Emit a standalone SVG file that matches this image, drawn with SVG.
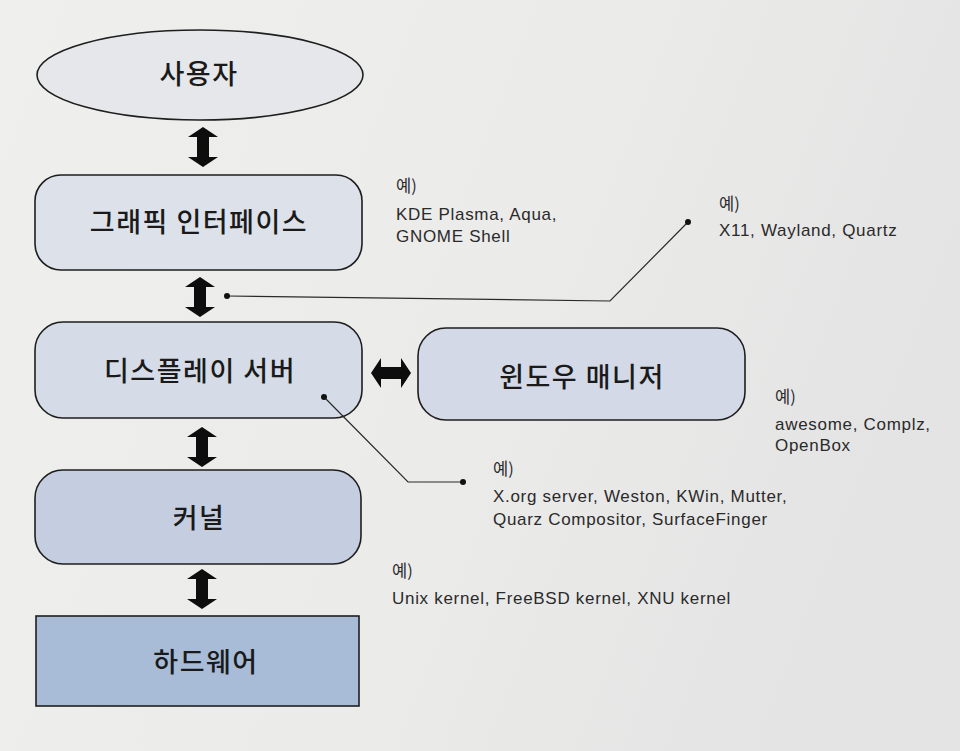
<svg xmlns="http://www.w3.org/2000/svg" width="960" height="751" viewBox="0 0 960 751">
<defs>
<linearGradient id="bg" x1="0" y1="0" x2="1" y2="0.3">
<stop offset="0" stop-color="#efefed"/>
<stop offset="0.6" stop-color="#ebebea"/>
<stop offset="1" stop-color="#e4e4e4"/>
</linearGradient>
<polygon id="varrow" points="0,-20 15,-10 6,-10 6,10 15,10 0,20 -15,10 -6,10 -6,-10 -15,-10"/>
</defs>
<style>
.node{stroke:#1e1e1e;stroke-width:1.6}
.label{font-family:"Noto Sans CJK KR","Noto Sans",sans-serif;font-size:27px;font-weight:500;letter-spacing:1.5px;fill:#1a1a1a;text-anchor:middle;dominant-baseline:central}
.note{font-family:"Liberation Sans","Noto Sans CJK KR",sans-serif;font-size:17px;letter-spacing:0.7px;fill:#2a2a2a}
.ye{font-family:"Noto Sans CJK KR",sans-serif;font-size:16.5px;fill:#2a2a2a}
.lead{stroke:#2a2a2a;stroke-width:1.2;fill:none}
.arrow{fill:#0d0d0d}
</style>
<rect x="0" y="0" width="960" height="751" fill="url(#bg)"/>

<g id="user">
<ellipse class="node" cx="200" cy="75" rx="163" ry="45" fill="#e6e7ea"/>
<text class="label" x="199" y="72">사용자</text>
</g>
<g id="gui">
<rect class="node" x="35" y="175" width="327" height="95" rx="26" fill="#dde1ea"/>
<text class="label" x="199" y="220">그래픽 인터페이스</text>
</g>
<g id="display-server">
<rect class="node" x="35" y="322" width="327" height="96" rx="28" fill="#d5dbe7"/>
<text class="label" x="200" y="369">디스플레이 서버</text>
</g>
<g id="window-manager">
<rect class="node" x="418" y="328" width="327" height="92" rx="28" fill="#d3d9e6"/>
<text class="label" x="582" y="375">윈도우 매니저</text>
</g>
<g id="kernel">
<rect class="node" x="35" y="470" width="326" height="94" rx="28" fill="#c4cee0"/>
<text class="label" x="199" y="516">커널</text>
</g>
<g id="hardware">
<rect class="node" x="36" y="616" width="323" height="90" fill="#a8bcd8"/>
<text class="label" x="206" y="660">하드웨어</text>
</g>

<g id="connectors">
<use href="#varrow" class="arrow" x="203" y="147"/>
<use href="#varrow" class="arrow" x="200" y="297"/>
<use href="#varrow" class="arrow" x="202" y="447"/>
<use href="#varrow" class="arrow" x="202" y="589"/>
<use href="#varrow" class="arrow" transform="translate(391,373) rotate(90)"/>
<polyline class="lead" points="227,296 610,301 688,222"/>
<circle cx="227" cy="296" r="3" fill="#111"/>
<circle cx="688" cy="222" r="3" fill="#111"/>
<polyline class="lead" points="324,397 408,482 463,482"/>
<circle cx="324" cy="397" r="3" fill="#111"/>
<circle cx="463" cy="482" r="3" fill="#111"/>
</g>

<g id="notes">
<text class="ye" x="396" y="192">예)</text>
<text class="note" x="396" y="220">KDE Plasma, Aqua,</text>
<text class="note" x="396" y="242">GNOME Shell</text>
<text class="ye" x="719" y="210">예)</text>
<text class="note" x="719" y="236">X11, Wayland, Quartz</text>
<text class="ye" x="775" y="403">예)</text>
<text class="note" x="775" y="430">awesome, Complz,</text>
<text class="note" x="775" y="451">OpenBox</text>
<text class="ye" x="493" y="475">예)</text>
<text class="note" x="493" y="502">X.org server, Weston, KWin, Mutter,</text>
<text class="note" x="493" y="525">Quarz Compositor, SurfaceFinger</text>
<text class="ye" x="392" y="577">예)</text>
<text class="note" x="392" y="604">Unix kernel, FreeBSD kernel, XNU kernel</text>
</g>
</svg>
